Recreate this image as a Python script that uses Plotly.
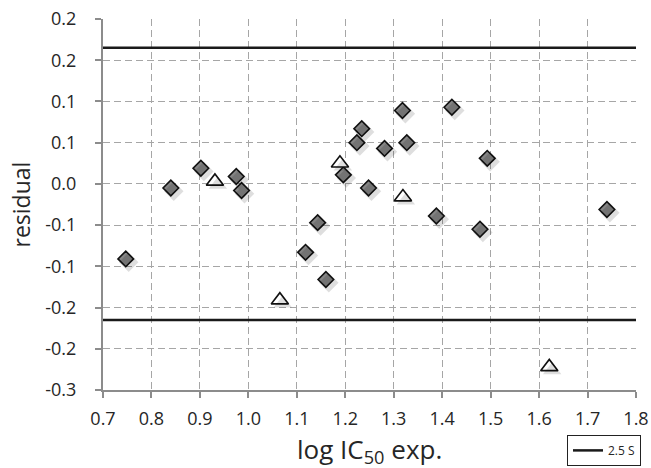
import plotly.graph_objects as go

# Diamonds
diamond_x = [0.747, 0.840, 0.902, 0.975, 0.986, 1.118, 1.143, 1.160, 1.196, 1.224,
             1.234, 1.248, 1.281, 1.318, 1.327, 1.388, 1.420, 1.478, 1.493, 1.740]
diamond_y = [-0.091, -0.005, 0.019, 0.009, -0.008, -0.083, -0.047, -0.116, 0.011, 0.050,
             0.067, -0.005, 0.043, 0.089, 0.050, -0.039, 0.093, -0.055, 0.031, -0.031]

# Triangles
tri_x = [0.931, 1.065, 1.189, 1.319, 1.621]
tri_y = [0.003, -0.141, 0.025, -0.016, -0.222]

# 2.5 S limits
limit = 0.165
x_range = [0.7, 1.8]

y_tickvals = [-0.25, -0.2, -0.15, -0.1, -0.05, 0.0, 0.05, 0.1, 0.15, 0.2]
y_ticktext = ["-0.3", "-0.2", "-0.2", "-0.1", "-0.1", "0.0", "0.1", "0.1", "0.2", "0.2"]
x_tickvals = [0.7, 0.8, 0.9, 1.0, 1.1, 1.2, 1.3, 1.4, 1.5, 1.6, 1.7, 1.8]
x_ticktext = ["0.7", "0.8", "0.9", "1.0", "1.1", "1.2", "1.3", "1.4", "1.5", "1.6", "1.7", "1.8"]

FONT = "Open Sans"
TXT = "#262626"

fig = go.Figure()

fig.add_trace(go.Scatter(
    x=x_range, y=[limit, limit], mode="lines",
    line=dict(color="#1a1a1a", width=2.5), name="2.5 S", showlegend=True))
fig.add_trace(go.Scatter(
    x=x_range, y=[-limit, -limit], mode="lines",
    line=dict(color="#1a1a1a", width=2.5), name="2.5 S", showlegend=False))

# soft shadows
fig.add_trace(go.Scatter(
    x=diamond_x, y=diamond_y, mode="markers", showlegend=False, hoverinfo="skip",
    marker=dict(symbol="diamond", size=15, color="rgba(0,0,0,0.13)", line=dict(width=0)),
    xaxis="x2", yaxis="y2"))
fig.add_trace(go.Scatter(
    x=tri_x, y=tri_y, mode="markers", showlegend=False, hoverinfo="skip",
    marker=dict(symbol="triangle-up", size=16, color="rgba(0,0,0,0.13)", line=dict(width=0)),
    xaxis="x2", yaxis="y2"))

fig.add_trace(go.Scatter(
    x=diamond_x, y=diamond_y, mode="markers", showlegend=False,
    marker=dict(symbol="diamond", size=12, color="#858585",
                line=dict(color="#111111", width=1.6))))
fig.add_trace(go.Scatter(
    x=tri_x, y=tri_y, mode="markers", showlegend=False,
    marker=dict(symbol="triangle-up", size=15, color="white",
                line=dict(color="#111111", width=1.6))))

axis_common = dict(
    showgrid=True, gridcolor="#a6a6a6", griddash="7px,4px", gridwidth=1,
    zeroline=False, showline=True, linecolor="#8c8c8c", linewidth=2,
    ticks="outside", tickcolor="#8c8c8c", ticklen=6, tickwidth=1.5,
    tickfont=dict(family=FONT, size=18, color=TXT), ticklabeloverflow="allow",
    automargin=False,
)

fig.update_layout(
    width=651, height=468,
    margin=dict(l=103, r=15, t=19, b=78, autoexpand=False),
    paper_bgcolor="white", plot_bgcolor="white",
    xaxis=dict(range=x_range, tickvals=x_tickvals, ticktext=x_ticktext,
               ticklabelstandoff=5, **axis_common),
    yaxis=dict(range=[-0.25, 0.2], tickvals=y_tickvals, ticktext=y_ticktext,
               ticklabelstandoff=15, **axis_common),
    xaxis2=dict(range=[x_range[0] - 0.006, x_range[1] - 0.006], overlaying="x",
                visible=False),
    yaxis2=dict(range=[-0.25 + 0.004, 0.2 + 0.004], overlaying="y", visible=False),
    legend=dict(x=(567 - 103) / 533, y=-0.121, xanchor="left", yanchor="top",
                bordercolor="#222222", borderwidth=1, bgcolor="white",
                font=dict(family=FONT, size=12, color=TXT),
                itemwidth=30, tracegroupgap=0),
    annotations=[
        dict(x=0.5, y=-0.105, xref="paper", yref="paper", xanchor="center", yanchor="top",
             text="log IC<sub>50</sub> exp.", showarrow=False,
             font=dict(family=FONT, size=26, color=TXT)),
        dict(x=(20 - 103) / 533, y=0.5, xref="paper", yref="paper", xanchor="center",
             yanchor="middle", textangle=-90, text="residual", showarrow=False,
             font=dict(family=FONT, size=23, color=TXT)),
    ],
)

fig.write_html("out.html", config={"displayModeBar": False},
               post_script="document.body.style.margin='0';document.body.style.overflow='hidden';")
